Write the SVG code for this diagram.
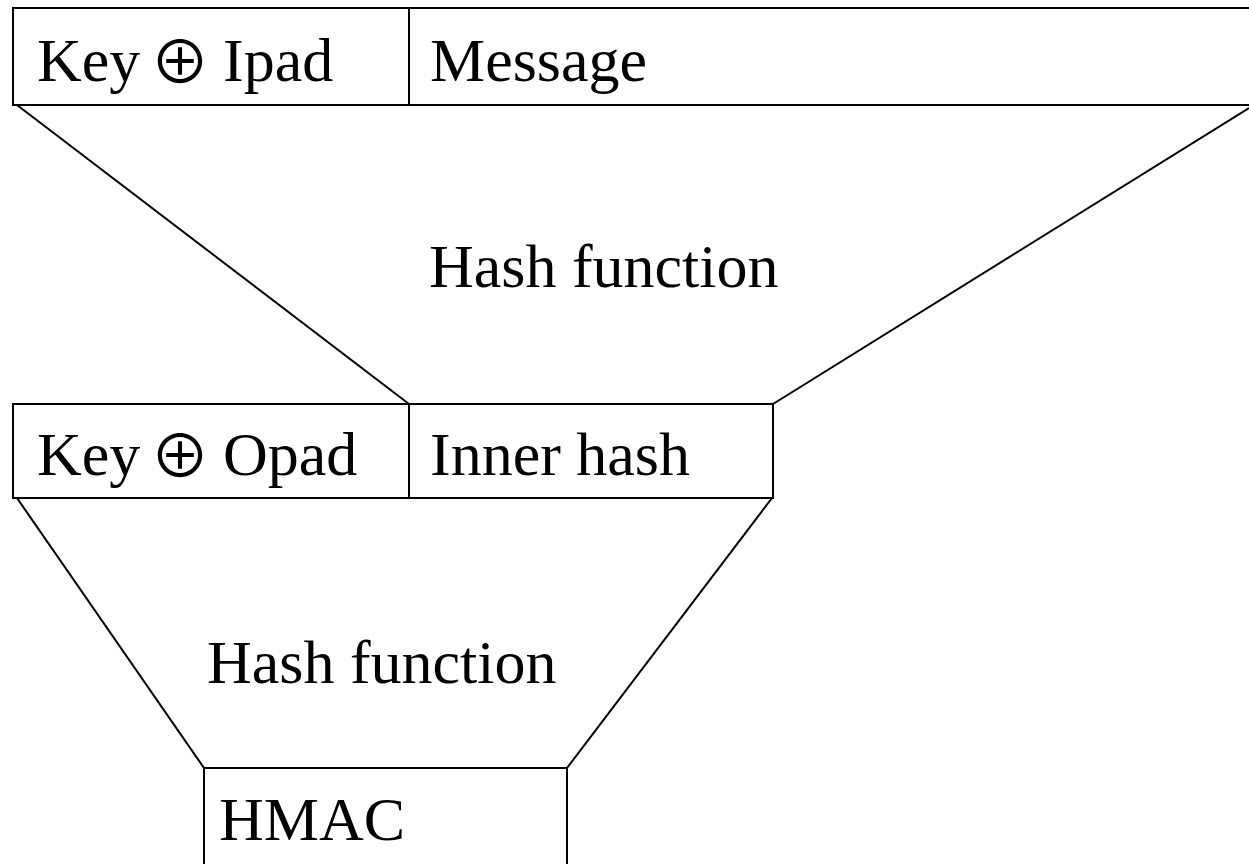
<svg xmlns="http://www.w3.org/2000/svg" width="1249" height="864" viewBox="0 0 1249 864">
<style>
.b{fill:none;stroke:#000;stroke-width:2}
.t{font-family:"Liberation Serif","Times New Roman",serif;font-size:62px;fill:#000}
.o{font-family:"Noto Sans CJK JP","DejaVu Serif",serif;font-size:60px}
</style>
<rect width="1249" height="864" fill="#fff"/>
<g id="top-box">
<rect class="b" x="13" y="8" width="1250" height="97"/>
<line class="b" x1="409" y1="8" x2="409" y2="105"/>
<text class="t" x="37" y="81">Key <tspan class="o" x="150" dy="3">⊕</tspan><tspan x="223" dy="-3">Ipad</tspan></text>
<text class="t" x="430" y="81">Message</text>
</g>
<g id="inner-box">
<rect class="b" x="13" y="404" width="760" height="94"/>
<line class="b" x1="409" y1="404" x2="409" y2="498"/>
<text class="t" x="37" y="475">Key <tspan class="o" x="150" dy="3">⊕</tspan><tspan x="223" dy="-3">Opad</tspan></text>
<text class="t" x="430" y="475">Inner hash</text>
</g>
<g id="hmac-box">
<rect class="b" x="204" y="768" width="363" height="110"/>
<text class="t" x="219" y="840">HMAC</text>
</g>
<g id="connectors">
<line class="b" x1="17" y1="105" x2="409" y2="404"/>
<line class="b" x1="1249" y1="108" x2="773" y2="404"/>
<line class="b" x1="17" y1="498" x2="204" y2="768"/>
<line class="b" x1="772" y1="498" x2="567" y2="768"/>
</g>
<g id="labels">
<text class="t" x="429" y="287">Hash function</text>
<text class="t" x="207" y="683">Hash function</text>
</g>
</svg>
